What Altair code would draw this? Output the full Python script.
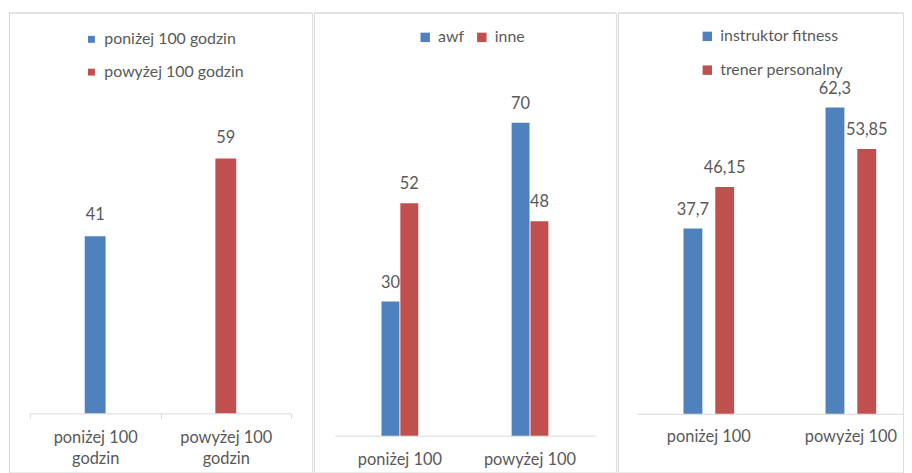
import altair as alt
import pandas as pd

BLUE = "#4f81bd"
RED = "#c0504d"
TXT = "#595959"
LINE = "#d9d9d9"
FONT = "Lato"
FS = 16.5
LFS = 16

# ---- data ----
p1_categories = ["poniżej 100 godzin", "powyżej 100 godzin"]
p1_values = [41, 59]

p2_categories = ["poniżej 100", "powyżej 100"]
p2_series = ["awf", "inne"]
p2_awf = [30, 70]
p2_inne = [52, 48]

p3_categories = ["poniżej 100", "powyżej 100"]
p3_series = ["instruktor fitness", "trener personalny"]
p3_instr = [37.7, 62.3]
p3_trener = [46.15, 53.85]

H = 463

df1 = pd.DataFrame({"cat": p1_categories, "value": p1_values})
df2 = pd.DataFrame({
    "cat": p2_categories * 2,
    "series": [p2_series[0]] * 2 + [p2_series[1]] * 2,
    "value": p2_awf + p2_inne,
})
df3 = pd.DataFrame({
    "cat": p3_categories * 2,
    "series": [p3_series[0]] * 2 + [p3_series[1]] * 2,
    "value": p3_instr + p3_trener,
})
one = pd.DataFrame({"a": [0]})


def frame(w):
    left = alt.Chart(one).mark_rule(color=LINE, strokeWidth=1).encode(
        x=alt.value(0.5), y=alt.value(0), y2=alt.value(H))
    top = alt.Chart(one).mark_rule(color=LINE, strokeWidth=1).encode(
        x=alt.value(0), x2=alt.value(w), y=alt.value(0.5))
    return [left, top]


def legend(x, y, direction="vertical", columns=1, symsize=49, rowpad=17):
    return alt.Legend(
        title=None, orient="none", legendX=x, legendY=y, direction=direction,
        columns=columns, symbolType="square", symbolSize=symsize,
        symbolStrokeWidth=0, labelFont=FONT, labelFontSize=LFS, labelColor=TXT,
        labelOffset=5, rowPadding=rowpad, columnPadding=9, padding=0,
    )


def xaxis(offset, ticks, labelpad, expr=None, domain=True):
    kw = dict(
        title=None, orient="bottom", offset=offset, labelAngle=0,
        domain=domain, domainColor=LINE, domainWidth=1, grid=False,
        labelFont=FONT, labelFontSize=FS, labelColor=TXT,
        labelPadding=labelpad, labelLineHeight=22,
    )
    if ticks:
        kw.update(ticks=True, tickBand="extent", tickColor=LINE, tickSize=5)
    else:
        kw.update(ticks=False, tickSize=0)
    if expr:
        kw["labelExpr"] = expr
    return alt.Axis(**kw)


# ---- panel 1 ----
W1 = 305
base1 = 403.5
k1 = 4.35
x1 = alt.X("cat:N", sort=p1_categories,
           scale=alt.Scale(domain=p1_categories, range=[21, 284], paddingInner=0, paddingOuter=0),
           axis=xaxis(-(H - base1), True, 11,
                      "split(replace(datum.label, ' godzin', '|godzin'), '|')"))
y1 = alt.Y("value:Q", scale=alt.Scale(domain=[0, 90], range=[base1, base1 - k1 * 90], nice=False, zero=True), axis=None)
bars1 = alt.Chart(df1).mark_bar(size=21).encode(
    x=x1, y=y1,
    color=alt.Color("cat:N", scale=alt.Scale(domain=p1_categories, range=[BLUE, RED]),
                    legend=legend(75, 19, rowpad=17)),
)
text1 = alt.Chart(df1).mark_text(font=FONT, fontSize=FS, color=TXT, dy=-21, baseline="middle").encode(
    x=x1, y=y1, text=alt.Text("value:Q"))
panel1 = alt.layer(*frame(W1), bars1, text1).properties(width=W1, height=H)

# ---- panel 2 ----
W2 = 304
base2 = 426
k2 = 4.5
x2 = alt.X("cat:N", sort=p2_categories,
           scale=alt.Scale(domain=p2_categories, range=[21, 283], paddingInner=0, paddingOuter=0),
           axis=xaxis(-(H - base2), False, 16))
xo2 = alt.XOffset("series:N", sort=p2_series,
                  scale=alt.Scale(domain=p2_series, range=[47, 84], paddingInner=0.05, paddingOuter=0))
y2 = alt.Y("value:Q", scale=alt.Scale(domain=[0, 90], range=[base2, base2 - k2 * 90], nice=False, zero=True), axis=None)
bars2 = alt.Chart(df2).mark_bar().encode(
    x=x2, xOffset=xo2, y=y2,
    color=alt.Color("series:N", scale=alt.Scale(domain=p2_series, range=[BLUE, RED]),
                    legend=legend(104, 17, direction="horizontal", columns=2, symsize=90)),
)
text2 = alt.Chart(df2).mark_text(font=FONT, fontSize=FS, color=TXT, dy=-19, baseline="middle").encode(
    x=x2, xOffset=xo2, y=y2, text=alt.Text("value:Q"))
panel2 = alt.layer(*frame(W2), bars2, text2).properties(width=W2, height=H)

# ---- panel 3 ----
W3 = 287
base3 = 404
k3 = 4.95
x3 = alt.X("cat:N", sort=p3_categories,
           scale=alt.Scale(domain=p3_categories, range=[20, 306], paddingInner=0, paddingOuter=0),
           axis=xaxis(-(H - base3), False, 15, domain=False))
xo3 = alt.XOffset("series:N", sort=p3_series,
                  scale=alt.Scale(domain=p3_series, range=[46, 97], paddingInner=0.406, paddingOuter=0))
y3 = alt.Y("value:Q", scale=alt.Scale(domain=[0, 80], range=[base3, base3 - k3 * 80], nice=False, zero=True), axis=None)
axisline3 = alt.Chart(one).mark_rule(color=LINE, strokeWidth=1).encode(
    x=alt.value(20), x2=alt.value(W3), y=alt.value(base3 + 0.5))
bars3 = alt.Chart(df3).mark_bar().encode(
    x=x3, xOffset=xo3, y=y3,
    color=alt.Color("series:N", scale=alt.Scale(domain=p3_series, range=[BLUE, RED]),
                    legend=legend(82, 16, symsize=90, rowpad=18)),
)
text3 = alt.Chart(df3).transform_calculate(
    lbl="replace(toString(datum.value), '.', ',')"
).mark_text(font=FONT, fontSize=FS, color=TXT, dy=-19, baseline="middle").encode(
    x=x3, xOffset=xo3, y=y3, text="lbl:N")
panel3 = alt.layer(*frame(W3), axisline3, bars3, text3).properties(width=W3, height=H)

chart = alt.hconcat(panel1, panel2, panel3, spacing=0).resolve_scale(
    x="independent", y="independent", color="independent", xOffset="independent"
).properties(
    padding={"left": 0, "top": 2, "right": 0, "bottom": 0},
).configure_view(stroke=None).configure(background="white")

chart.save("out.html", embed_options={"renderer": "svg", "actions": False})
